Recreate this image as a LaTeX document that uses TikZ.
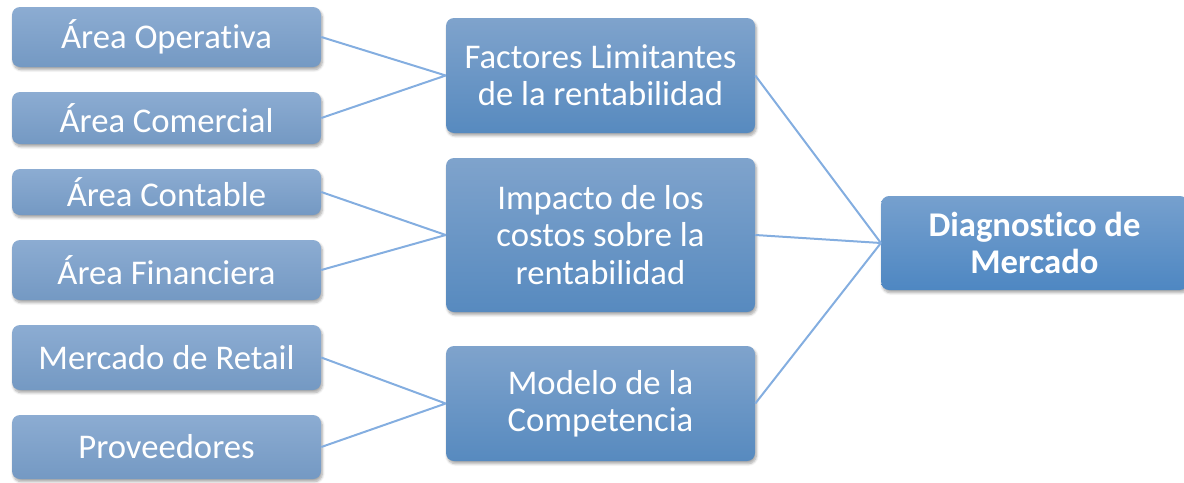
\documentclass[tikz,border=0pt]{standalone}
\usepackage{fontspec}
\setmainfont{Carlito}[Ligatures=NoCommon]
\usetikzlibrary{shadows.blur}
\usetikzlibrary{positioning}

\definecolor{areatop}{HTML}{8CACD2}
\definecolor{areabot}{HTML}{7499C3}
\definecolor{factop}{HTML}{7FA3CC}
\definecolor{facbot}{HTML}{578ABF}
\definecolor{diagtop}{HTML}{76A0CE}
\definecolor{diagbot}{HTML}{4E87C2}
\definecolor{linkblue}{HTML}{84AEE0}

\begin{document}
\begin{tikzpicture}[x=0.75pt,y=-0.75pt]
      \tikzset{
        box/.style={rectangle, rounded corners=6pt, text=white, align=center,
          inner sep=0pt, font=\fontsize{26}{28}\selectfont,
          blur shadow={shadow xshift=1pt, shadow yshift=-2pt,
            shadow blur steps=6, shadow opacity=35}},
        area/.style={box, minimum width=231.75pt, top color=areatop, bottom color=areabot},
        factor/.style={box, minimum width=231.75pt, minimum height=86.25pt,
          top color=factop, bottom color=facbot},
        link/.style={draw=linkblue, line width=1.5pt},
      }
      \useasboundingbox (0,0) rectangle (1184,482);

      \node[area, minimum height=45pt] (opr) at (166.5,37) {Área Operativa};
      \node[area, minimum height=39pt] (com) at (166.5,118) {Área Comercial};
      \node[area, minimum height=34.5pt] (con) at (166.5,192) {Área Contable};
      \node[area, minimum height=45pt] (fin) at (166.5,270) {Área Financiera};
      \node[area, minimum height=48.75pt] (ret) at (166.5,357.5) {Mercado de Retail};
      \node[area, minimum height=48pt] (prov) at (166.5,447) {Proveedores};

      \node[factor] (fac) at (600.5,75.5) {Factores Limitantes\\de la rentabilidad};
      \node[factor, minimum height=115.5pt] (imp) at (600.5,235) {Impacto de los\\costos sobre la\\rentabilidad};
      \node[factor] (mod) at (600.5,403.5) {Modelo de la\\Competencia};

      \node[box, minimum width=230pt, minimum height=70.5pt, top color=diagtop,
        bottom color=diagbot, font=\fontsize{26}{28}\selectfont\bfseries] (diag)
        at (1034.5,243) {Diagnostico de\\Mercado};

      \draw[link]
        (opr.east) -- (fac.west)
        (com.east) -- (fac.west)
        (con.east) -- (imp.west)
        (fin.east) -- (imp.west)
        (ret.east) -- (mod.west)
        (prov.east) -- (mod.west)
        (fac.east) -- (diag.west)
        (imp.east) -- (diag.west)
        (mod.east) -- (diag.west);
\end{tikzpicture}
\end{document}
